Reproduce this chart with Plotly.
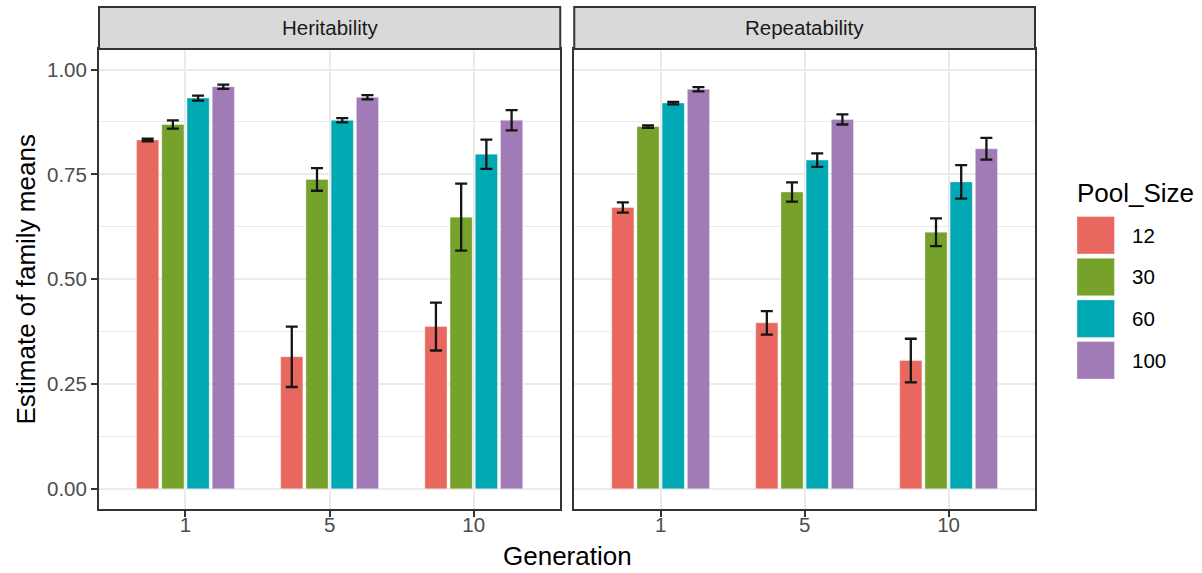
import plotly.graph_objects as go

# ---- data -------------------------------------------------------------
generations = ["1", "5", "10"]
pool_sizes = ["12", "30", "60", "100"]
facets = ["Heritability", "Repeatability"]

# mean estimates, one row per pool size (generations 1, 5, 10)
herit_mean = [
    [0.832, 0.315, 0.387],
    [0.869, 0.738, 0.648],
    [0.932, 0.879, 0.798],
    [0.959, 0.934, 0.879],
]
herit_err = [
    [0.003, 0.072, 0.057],
    [0.010, 0.027, 0.080],
    [0.006, 0.005, 0.035],
    [0.005, 0.005, 0.024],
]
repeat_mean = [
    [0.671, 0.396, 0.306],
    [0.864, 0.708, 0.612],
    [0.920, 0.784, 0.732],
    [0.953, 0.881, 0.811],
]
repeat_err = [
    [0.012, 0.028, 0.052],
    [0.003, 0.023, 0.033],
    [0.003, 0.016, 0.040],
    [0.005, 0.012, 0.026],
]

y_ticks = [0.0, 0.25, 0.5, 0.75, 1.0]
y_ticktext = ["0.00", "0.25", "0.50", "0.75", "1.00"]

colors = ["#E8675F", "#76A22B", "#00A8B4", "#A07BB6"]

# ---- page geometry ----------------------------------------------------
W, H = 1202, 573
L, R, T, B = 98.5, 1035, 49, 509        # plotting area in page pixels
PW, PH = R - L, B - T

def px(x):
    return (x - L) / PW

def py(y):
    return (B - y) / PH

FONT = "Liberation Sans, Arial, sans-serif"
GRID = "#EBEBEB"
FRAME = "#333333"

fig = go.Figure()

panels = [("x", "y", herit_mean, herit_err), ("x2", "y2", repeat_mean, repeat_err)]
for xa, ya, means, errs in panels:
    for i, ps in enumerate(pool_sizes):
        fig.add_trace(go.Bar(
            x=generations, y=means[i], name=ps,
            xaxis=xa, yaxis=ya, showlegend=False,
            marker=dict(color=colors[i], line=dict(color="rgba(255,255,255,0.6)", width=0.6)),
            error_y=dict(type="data", array=errs[i], visible=True,
                         color="#151515", thickness=2.3, width=6),
            offsetgroup=ps,
        ))

yrange = [-0.048, 1.049]
xrange = [-0.6, 2.6]
left_dom = [0, px(560)]
right_dom = [px(574), 1]

axis_common = dict(
    showline=True, mirror=True, linecolor=FRAME, linewidth=2,
    showgrid=True, gridcolor=GRID, gridwidth=2, zeroline=False,
    tickfont=dict(family=FONT, size=20.5, color="#4D4D4D"),
)

xaxis_common = dict(type="category", range=xrange,
                    ticks="outside", ticklen=6, tickwidth=2, tickcolor=FRAME,
                    ticklabelstandoff=-10, **axis_common)

fig.update_layout(
    width=W, height=H,
    margin=dict(l=L, r=W - R, t=T, b=H - B, pad=0),
    paper_bgcolor="white", plot_bgcolor="white",
    barmode="group", bargap=0.3, bargroupgap=0.12,
    showlegend=False,
    font=dict(family=FONT),
    xaxis=dict(domain=left_dom, **xaxis_common),
    xaxis2=dict(domain=right_dom, anchor="y2", **xaxis_common),
    yaxis=dict(range=yrange, tickvals=y_ticks, ticktext=y_ticktext,
               ticks="outside", ticklen=6, tickwidth=2, tickcolor=FRAME,
               minor=dict(tick0=0.125, dtick=0.25, showgrid=True, gridcolor=GRID, gridwidth=1),
               **axis_common),
    yaxis2=dict(range=yrange, tickvals=y_ticks, showticklabels=False, anchor="x2",
                minor=dict(tick0=0.125, dtick=0.25, showgrid=True, gridcolor=GRID, gridwidth=1),
                **axis_common),
)

# facet strips
shapes = []
annotations = []
for name, (x0, x1) in zip(facets, [(98.5, 560), (574, 1035)]):
    shapes.append(dict(type="rect", xref="paper", yref="paper",
                       x0=px(x0), x1=px(x1), y0=py(49), y1=py(7),
                       fillcolor="#D9D9D9", line=dict(color=FRAME, width=2), layer="above"))
    annotations.append(dict(text=name, xref="paper", yref="paper",
                            x=px((x0 + x1) / 2), y=py(28), showarrow=False,
                            xanchor="center", yanchor="middle",
                            font=dict(family=FONT, size=20.5, color="#1A1A1A")))

# axis titles
annotations.append(dict(text="Generation", xref="paper", yref="paper",
                        x=px((L + R) / 2), y=py(556), showarrow=False,
                        xanchor="center", yanchor="middle",
                        font=dict(family=FONT, size=26, color="#000000")))
annotations.append(dict(text="Estimate of family means", xref="paper", yref="paper",
                        x=px(25), y=py(280), showarrow=False, textangle=-90,
                        xanchor="center", yanchor="middle",
                        font=dict(family=FONT, size=26, color="#000000")))

# legend
annotations.append(dict(text="Pool_Size", xref="paper", yref="paper",
                        x=px(1075), y=py(193), showarrow=False,
                        xanchor="left", yanchor="middle",
                        font=dict(family=FONT, size=26, color="#000000")))
key_top = 216.5
key_size = 37.5
key_step = 41.7
for i, ps in enumerate(pool_sizes):
    y0 = key_top + i * key_step
    shapes.append(dict(type="rect", xref="paper", yref="paper",
                       x0=px(1077), x1=px(1077 + key_size),
                       y0=py(y0 + key_size), y1=py(y0),
                       fillcolor=colors[i], line=dict(color="rgba(255,255,255,0.6)", width=0.6)))
    annotations.append(dict(text=ps, xref="paper", yref="paper",
                            x=px(1130), y=py(y0 + key_size / 2), showarrow=False,
                            xanchor="left", yanchor="middle",
                            font=dict(family=FONT, size=20.5, color="#000000")))

fig.update_layout(shapes=shapes, annotations=annotations)

fig.write_html("out.html")
